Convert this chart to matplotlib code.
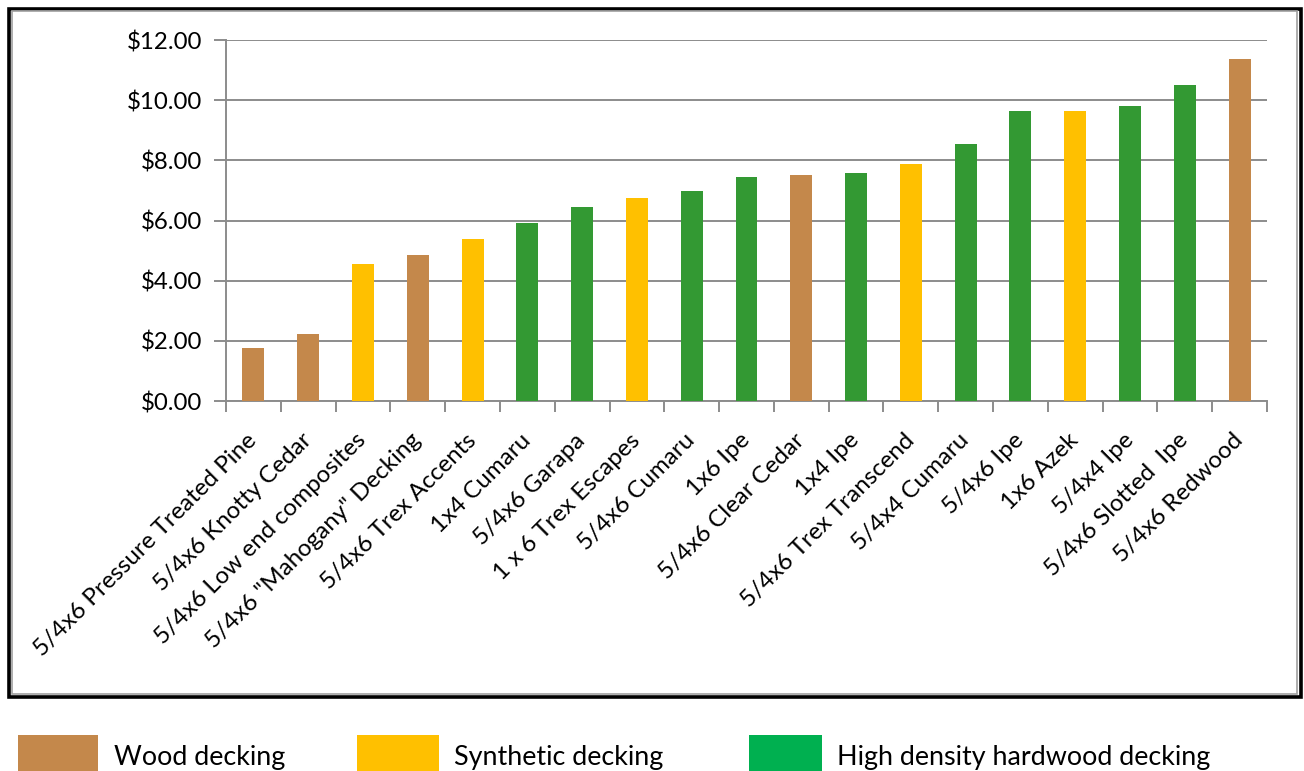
import matplotlib
matplotlib.use("Agg")
import matplotlib.pyplot as plt
from matplotlib.patches import Rectangle
from matplotlib.transforms import offset_copy

categories = [
    "5/4x6 Pressure Treated Pine", "5/4x6 Knotty Cedar", "5/4x6 Low end composites",
    '5/4x6 "Mahogany" Decking', "5/4x6 Trex Accents", "1x4 Cumaru", "5/4x6 Garapa",
    "1 x 6 Trex Escapes", "5/4x6 Cumaru", "1x6 Ipe", "5/4x6 Clear Cedar", "1x4 Ipe",
    "5/4x6 Trex Transcend", "5/4x4 Cumaru", "5/4x6 Ipe", "1x6 Azek", "5/4x4 Ipe",
    "5/4x6 Slotted  Ipe", "5/4x6 Redwood",
]
prices = [1.76, 2.23, 4.55, 4.85, 5.39, 5.92, 6.45, 6.75, 6.98, 7.45, 7.51, 7.58,
          7.88, 8.54, 9.64, 9.64, 9.81, 10.51, 11.37]
kinds = ["wood", "wood", "synthetic", "wood", "synthetic", "hardwood", "hardwood",
         "synthetic", "hardwood", "hardwood", "wood", "hardwood", "synthetic",
         "hardwood", "hardwood", "synthetic", "hardwood", "hardwood", "wood"]
y_ticks = [0, 2, 4, 6, 8, 10, 12]
legend_labels = ["Wood decking", "Synthetic decking", "High density hardwood decking"]

bar_colors = {"wood": "#C4884B", "synthetic": "#FFC000", "hardwood": "#339933"}
legend_colors = ["#C4884B", "#FFC000", "#00B050"]

FONT = ["Lato", "DejaVu Sans"]
plt.rcParams["font.family"] = FONT

W, H = 1304, 771
fig = plt.figure(figsize=(W / 100, H / 100), dpi=100)

def fx(x):
    return x / W

def fy(y):
    return 1 - y / H

ax = fig.add_axes([fx(226), fy(401), fx(1267) - fx(226), fy(40) - fy(401)])
n = len(categories)
xs = list(range(n))
ax.bar(xs, prices, width=0.4, color=[bar_colors[k] for k in kinds], zorder=3)

ax.set_xlim(-0.5, n - 0.5)
ax.set_ylim(0, 12)
grid_c = "#8C8C8C"
ax.set_yticks(y_ticks)
ax.set_yticklabels([f"${v:.2f}" for v in y_ticks], fontsize=17.3)
ax.yaxis.grid(True, color=grid_c, lw=1.4, zorder=0)
ax.tick_params(axis="y", length=9, width=1.4, color=grid_c, pad=8)
ax.set_xticks([i - 0.5 for i in range(n + 1)])
ax.set_xticklabels([])
ax.tick_params(axis="x", length=8, width=1.4, color=grid_c)
for side in ["top", "right"]:
    ax.spines[side].set_visible(False)
for side in ["left", "bottom"]:
    ax.spines[side].set_color(grid_c)
    ax.spines[side].set_linewidth(1.4)

base = ax.get_xaxis_transform()
for i, lab in enumerate(categories):
    tr = offset_copy(base, fig=fig, x=0, y=-36, units="dots")
    ax.text(i, 0, lab, transform=tr, rotation=45, ha="right", va="center",
            rotation_mode="anchor", fontsize=17.4, clip_on=False)

# chart border
fig.add_artist(Rectangle((fx(8.5), fy(697)), fx(1300.5) - fx(8.5), fy(9) - fy(697),
                         transform=fig.transFigure, fill=False, ec="black", lw=2.6))
fig.add_artist(Rectangle((fx(11.5), fy(694)), fx(1297) - fx(11.5), fy(11.5) - fy(694),
                         transform=fig.transFigure, fill=False, ec="#A0A0A0", lw=1.2))

# legend
sw_x = [18, 357, 749]
sw_w = [80, 82, 73]
tx_x = [114, 454, 837]
for i in range(3):
    fig.add_artist(Rectangle((fx(sw_x[i]), fy(772)), fx(sw_w[i]), fy(735) - fy(772),
                             transform=fig.transFigure, color=legend_colors[i], lw=0))
    fig.text(fx(tx_x[i]), fy(765), legend_labels[i], fontsize=19.4, va="baseline", ha="left")

fig.savefig("out.png", dpi=100)
